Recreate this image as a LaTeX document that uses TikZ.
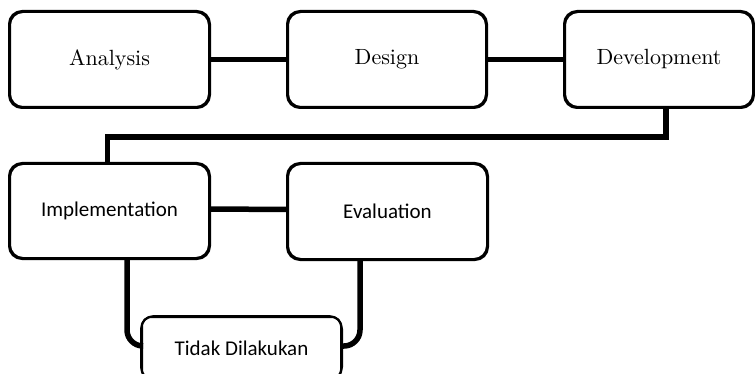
\documentclass[tikz,border=0pt]{standalone}
\usepackage{fontspec}
\newfontfamily\calibri{Carlito}
\newfontfamily\lmten[Extension=.otf]{lmroman10-regular}
\begin{document}
\begin{tikzpicture}[x=1pt,y=-1pt,
  box/.style={draw=black, line width=2pt, rounded corners=13pt, fill=white, inner sep=0pt},
  toptext/.style={font=\lmten\fontsize{22}{26}\selectfont},
  bottext/.style={font=\calibri\fontsize{21}{25}\selectfont},
  conn/.style={line width=5.5pt, line cap=butt}]
\useasboundingbox (0,0) rectangle (755,374);
\begin{scope}
\clip (0,0) rectangle (755,374);
% nodes
\node[box, toptext, minimum width=199pt, minimum height=95pt] (an) at (109.5,59.5) {Analysis};
\node[box, toptext, minimum width=198pt, minimum height=95pt] (de) at (387,59.5) {Design};
\node[box, toptext, minimum width=188pt, minimum height=95pt] (dv) at (659,59.5) {Development};
\node[box, bottext, minimum width=199pt, minimum height=94pt] (im) at (109.5,211) {Implementation};
\node[box, bottext, minimum width=199pt, minimum height=95pt] (ev) at (387.5,211.5) {Evaluation};
\node[box, bottext, minimum width=199pt, minimum height=62pt, rounded corners=9pt] (td) at (241.5,348) {Tidak Dilakukan};
% connectors
\draw[conn] (an.east) -- (de.west);
\draw[conn] (de.east) -- (dv.west);
\draw[conn] ([xshift=7pt]dv.south) -- ++(0,29) -| ([xshift=-2pt]im.north);
\draw[conn] ([yshift=2pt]im.east) -- ([yshift=2pt]ev.west);
\draw[conn, rounded corners=16pt] ([xshift=17.5pt]im.south) |- ([yshift=2pt]td.west);
\draw[conn, rounded corners=16pt] ([xshift=-27.5pt]ev.south) |- ([yshift=2pt]td.east);
% redraw box borders over connector ends
\foreach \n in {an,de,dv,im,ev,td}{
  \draw[line width=2pt, rounded corners=13pt] (\n.north west) rectangle (\n.south east);
}
\end{scope}
\end{tikzpicture}
\end{document}
